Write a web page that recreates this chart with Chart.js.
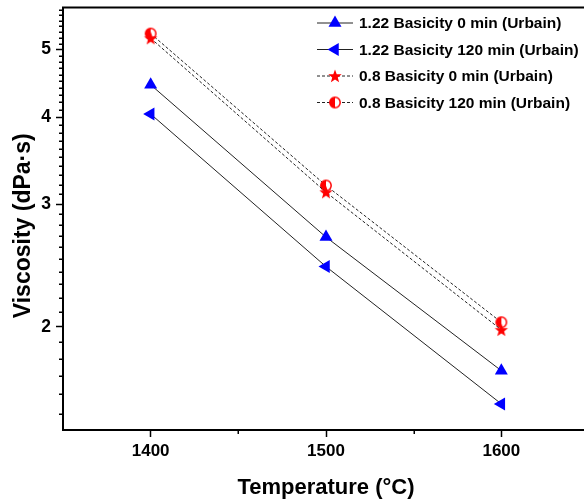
<!DOCTYPE html>
<html lang="en">
  <head>
    <meta charset="UTF-8" />
    <meta name="viewport" content="width=device-width, initial-scale=1.0" />
    <title>Viscosity vs temperature</title>
    <style>
      html, body { margin: 0; padding: 0; overflow: hidden; background: #fff; }
    </style>
  </head>

  <body>
    <script src="https://cdn.jsdelivr.net/npm/chart.js"></script>
    <canvas id="chart" width="600" height="501"></canvas>

    <script>
      // data
      const temperatures = [1400, 1500, 1600]
      const basicity122At0 = [4.45, 2.69, 1.73]
      const basicity122At120 = [4.04, 2.44, 1.55]
      const basicity08At0 = [5.19, 3.12, 1.98]
      const basicity08At120 = [5.27, 3.19, 2.03]
      const seriesNames = [
        '1.22 Basicity 0 min (Urbain)',
        '1.22 Basicity 120 min (Urbain)',
        '0.8 Basicity 0 min (Urbain)',
        '0.8 Basicity 120 min (Urbain)',
      ]

      const xTicks = [1400, 1500, 1600]
      const xMinorTicks = [1450, 1550]
      const yTicks = [2, 3, 4, 5]
      const yMinorTicks = [
        1.5, 1.6, 1.7, 1.8, 1.9,
        2.1, 2.2, 2.3, 2.4, 2.5, 2.6, 2.7, 2.8, 2.9,
        3.1, 3.2, 3.3, 3.4, 3.5, 3.6, 3.7, 3.8, 3.9,
        4.1, 4.2, 4.3, 4.4, 4.5, 4.6, 4.7, 4.8, 4.9,
        5.1, 5.2, 5.3, 5.4, 5.5, 5.6, 5.7,
      ]
      const yTitle = 'Viscosity (dPa·s)'

      const FONT = 'Arial, "Liberation Sans", sans-serif'
      const BLUE = '#0000ff'
      const RED = '#ff0000'

      const makeMarker = (size, draw) => {
        const c = document.createElement('canvas')
        c.width = size
        c.height = size
        draw(c.getContext('2d'), size / 2)
        return c
      }

      const starMarker = makeMarker(16, (ctx, c) => {
        ctx.beginPath()
        for (let i = 0; i < 10; i++) {
          const r = i % 2 ? 2.9 : 7
          const a = -Math.PI / 2 + (i * Math.PI) / 5
          ctx.lineTo(c + r * Math.cos(a), c + 0.5 + r * Math.sin(a))
        }
        ctx.closePath()
        ctx.fillStyle = RED
        ctx.fill()
      })

      const halfCircleMarker = makeMarker(14, (ctx, c) => {
        ctx.beginPath()
        ctx.arc(c, c, 5.2, 0, 2 * Math.PI)
        ctx.fillStyle = '#fff'
        ctx.fill()
        ctx.beginPath()
        ctx.arc(c, c, 5.2, Math.PI / 2, Math.PI * 1.5)
        ctx.closePath()
        ctx.fillStyle = RED
        ctx.fill()
        ctx.beginPath()
        ctx.arc(c, c, 5.2, 0, 2 * Math.PI)
        ctx.strokeStyle = RED
        ctx.lineWidth = 1.5
        ctx.stroke()
      })

      const toPoints = (values) => temperatures.map((t, i) => ({ x: t, y: values[i] }))

      const series = (label, values, extra) => ({
        label,
        data: toPoints(values),
        borderColor: '#222',
        borderWidth: 1,
        pointRadius: 7.5,
        pointHoverRadius: 7.5,
        pointBorderWidth: 0,
        fill: false,
        tension: 0,
        ...extra,
      })

      const datasets = [
        series(seriesNames[0], basicity122At0, {
          pointStyle: 'triangle', pointBackgroundColor: BLUE, pointBorderColor: BLUE,
        }),
        series(seriesNames[1], basicity122At120, {
          pointStyle: 'triangle', pointRotation: -90, pointBackgroundColor: BLUE, pointBorderColor: BLUE,
        }),
        series(seriesNames[2], basicity08At0, {
          pointStyle: starMarker, borderDash: [3, 2], pointBackgroundColor: RED, pointBorderColor: RED,
        }),
        series(seriesNames[3], basicity08At120, {
          pointStyle: halfCircleMarker, borderDash: [3, 2], pointBackgroundColor: RED, pointBorderColor: RED,
        }),
      ]

      // minor ticks, top frame line and the y title
      const framePlugin = {
        id: 'frame',
        afterDraw(chart) {
          const { ctx, chartArea, scales } = chart
          const line = (x1, y1, x2, y2) => {
            ctx.beginPath()
            ctx.moveTo(x1, y1)
            ctx.lineTo(x2, y2)
            ctx.stroke()
          }
          ctx.save()
          ctx.strokeStyle = '#000'
          ctx.lineWidth = 1.5
          yMinorTicks.forEach((v) => {
            if (v < scales.y.min || v > scales.y.max) return
            const py = Math.round(scales.y.getPixelForValue(v)) + 0.25
            line(chartArea.left - 4, py, chartArea.left, py)
          })
          xMinorTicks.forEach((v) => {
            const px = Math.round(scales.x.getPixelForValue(v)) + 0.25
            line(px, chartArea.bottom, px, chartArea.bottom + 4)
          })
          ctx.lineWidth = 2
          line(chartArea.left - 1, chartArea.top, chartArea.right, chartArea.top)

          // y title sits a bit below the axis middle in the original
          ctx.translate(24, (chartArea.top + chartArea.bottom) / 2 + 7)
          ctx.rotate(-Math.PI / 2)
          ctx.fillStyle = '#000'
          ctx.font = 'bold 23px ' + FONT
          ctx.textAlign = 'center'
          ctx.textBaseline = 'middle'
          ctx.fillText(yTitle, 0, 0)
          ctx.restore()
        },
      }

      // legend inside the plot, line sample with marker
      const legendPlugin = {
        id: 'insideLegend',
        afterDraw(chart) {
          const { ctx } = chart
          const lineStart = 317
          const lineEnd = 353
          const textX = 359
          const firstRow = 23
          const rowStep = 26.5
          chart.data.datasets.forEach((ds, i) => {
            const y = firstRow + i * rowStep
            ctx.save()
            ctx.strokeStyle = ds.borderColor
            ctx.lineWidth = 1
            ctx.setLineDash(ds.borderDash || [])
            ctx.beginPath()
            ctx.moveTo(lineStart, y)
            ctx.lineTo(lineEnd, y)
            ctx.stroke()
            ctx.setLineDash([])
            ctx.fillStyle = ds.pointBackgroundColor
            ctx.strokeStyle = ds.pointBorderColor
            Chart.helpers.drawPoint(
              ctx,
              { pointStyle: ds.pointStyle, radius: ds.pointRadius, rotation: ds.pointRotation || 0, borderWidth: 0 },
              (lineStart + lineEnd) / 2,
              y
            )
            ctx.fillStyle = '#000'
            ctx.font = 'bold 15.5px ' + FONT
            ctx.textBaseline = 'middle'
            ctx.fillText(ds.label, textX, y + 1)
            ctx.restore()
          })
        },
      }

      new Chart(document.getElementById('chart'), {
        type: 'line',
        data: { datasets },
        plugins: [framePlugin, legendPlugin],
        options: {
          responsive: false,
          animation: false,
          events: [],
          layout: { padding: { top: 7, right: 11, left: 0, bottom: 0 } },
          plugins: {
            legend: { display: false },
            tooltip: { enabled: false },
          },
          scales: {
            x: {
              type: 'linear',
              min: 1350,
              max: 1650,
              afterBuildTicks: (s) => {
                s.ticks = xTicks.map((v) => ({ value: v }))
              },
              afterFit: (s) => {
                s.height = 71
                s.paddingLeft = 0
                s.paddingRight = 0
              },
              grid: { drawOnChartArea: false, tickLength: 7, tickWidth: 1.5, tickColor: '#000' },
              border: { color: '#000', width: 2 },
              ticks: {
                color: '#000',
                padding: 4,
                maxRotation: 0,
                font: { family: FONT, size: 17, weight: 'bold' },
                callback: (v) => String(v),
              },
              title: {
                display: true,
                text: 'Temperature (°C)',
                color: '#000',
                font: { family: FONT, size: 22, weight: 'bold' },
                padding: { top: 0, bottom: 0 },
              },
            },
            y: {
              type: 'logarithmic',
              min: 1.422,
              max: 5.745,
              afterBuildTicks: (s) => {
                s.ticks = yTicks.map((v) => ({ value: v }))
              },
              afterFit: (s) => {
                s.width = 63
                s.paddingTop = 0
                s.paddingBottom = 0
              },
              grid: { drawOnChartArea: false, tickLength: 7, tickWidth: 1.5, tickColor: '#000' },
              border: { color: '#000', width: 2 },
              ticks: {
                color: '#000',
                padding: 5,
                font: { family: FONT, size: 17.5, weight: 'bold' },
                callback: (v) => String(v),
              },
              title: { display: false },
            },
          },
        },
      })
    </script>
  </body>
</html>
